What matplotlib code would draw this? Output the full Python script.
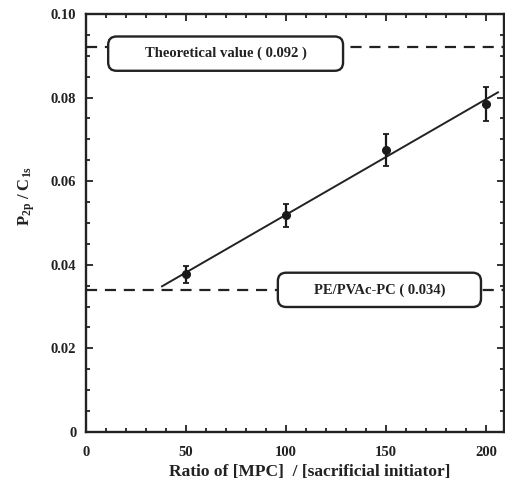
import matplotlib
matplotlib.use("Agg")
import matplotlib.pyplot as plt
import numpy as np
from matplotlib.patches import FancyBboxPatch
from matplotlib.ticker import MultipleLocator, FuncFormatter

plt.rcParams['font.family'] = ['Liberation Serif', 'DejaVu Serif']
plt.rcParams['font.weight'] = 'bold'
plt.rcParams['mathtext.fontset'] = 'custom'
plt.rcParams['mathtext.rm'] = 'Liberation Serif:bold'
plt.rcParams['mathtext.it'] = 'Liberation Serif:bold'

# measured P2p/C1s ratios
ratio = [50, 100, 150, 200]
p_c = [0.0377, 0.0518, 0.0675, 0.0785]
p_c_err = [0.0020, 0.0028, 0.0038, 0.0040]

# reference levels
theoretical = 0.092
pe_pvac_pc = 0.034

fig = plt.figure(figsize=(5.06, 4.8), dpi=100)
ax = fig.add_axes([0.170, 0.100, 0.826, 0.871])

# linear fit through the measured points
k, b = np.polyfit(ratio, p_c, 1)
xf = np.array([38, 206])
ax.plot(xf, k * xf + b, color='#222222', lw=1.4, zorder=3)

ax.errorbar(ratio, p_c, yerr=p_c_err, fmt='o', color='#1a1a1a', ms=5.5,
            elinewidth=1.6, capsize=2.5, capthick=1.3, zorder=4)

for lvl in (theoretical, pe_pvac_pc):
    ax.axhline(lvl, color='#222222', lw=1.6, ls=(0, (5, 3.5)), zorder=2)

ax.set_xlim(0, 209)
ax.set_ylim(0, 0.10)

# labelled boxes sitting on the dashed lines (x0, x1, y centre in axes units)
boxes = [(0.053, 0.615, 0.905, 'Theoretical value ( 0.092 )'),
         (0.459, 0.945, 0.340, 'PE/PVAc-PC ( 0.034)')]
for x0, x1, yc, txt in boxes:
    h = 0.082
    patch = FancyBboxPatch((x0, yc - h / 2), x1 - x0, h,
                           boxstyle='round,pad=0,rounding_size=0.02',
                           transform=ax.transAxes, facecolor='white',
                           edgecolor='#222222', lw=1.7, zorder=5)
    ax.add_patch(patch)
    ax.text((x0 + x1) / 2, yc, txt, transform=ax.transAxes, ha='center',
            va='center', fontsize=10.5, fontweight='bold', color='#222222', zorder=6)

ax.xaxis.set_major_locator(MultipleLocator(50))
ax.xaxis.set_minor_locator(MultipleLocator(10))
ax.yaxis.set_major_locator(MultipleLocator(0.02))
ax.yaxis.set_minor_locator(MultipleLocator(0.005))
ax.yaxis.set_major_formatter(FuncFormatter(lambda v, p: '0' if abs(v) < 1e-9 else '%.2f' % v))

ax.tick_params(which='both', direction='in', top=True, right=True,
               labelsize=10.5, colors='#222222', width=1.3)
ax.tick_params(axis='y', pad=7)
ax.tick_params(axis='x', pad=10)
ax.tick_params(which='major', length=5)
ax.tick_params(which='minor', length=3)
for s in ax.spines.values():
    s.set_linewidth(1.7)
    s.set_color('#222222')
for lab in ax.get_xticklabels() + ax.get_yticklabels():
    lab.set_fontweight('bold')

ax.set_xlabel('Ratio of [MPC]  / [sacrificial initiator]', fontsize=12.5,
              fontweight='bold', color='#222222')
ax.xaxis.set_label_coords(0.535, -0.076)
ax.set_ylabel(r'P$_{\mathregular{2p}}$ / C$_{\mathregular{1s}}$', fontsize=12,
              fontweight='bold', color='#222222')
ax.yaxis.set_label_coords(-0.118, 0.565)

fig.savefig('out.png', dpi=100)
